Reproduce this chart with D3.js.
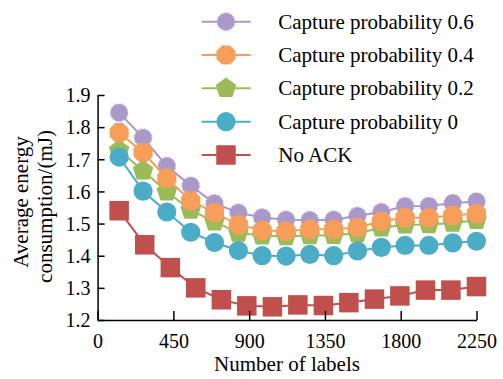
<!DOCTYPE html>
<html>
<head>
<meta charset="utf-8">
<script src="https://cdn.jsdelivr.net/npm/d3@7"></script>
<style>
  body { margin: 0; background: #fff; }
</style>
</head>
<body>
<svg id="chart" width="503" height="379"></svg>
<script>
// values
const xCapture = [128, 270, 411, 553, 694, 836, 977, 1119, 1260, 1402, 1543, 1685, 1826, 1967, 2109, 2250];
const xNoAck = [128, 280, 432, 583, 735, 886, 1038, 1189, 1341, 1492, 1644, 1795, 1947, 2098, 2250];

const cap06 = [1.845, 1.767, 1.679, 1.618, 1.563, 1.534, 1.519, 1.512, 1.511, 1.512, 1.524, 1.536, 1.554, 1.555, 1.564, 1.569];
const cap04 = [1.783, 1.721, 1.641, 1.571, 1.534, 1.496, 1.479, 1.476, 1.482, 1.482, 1.488, 1.507, 1.518, 1.518, 1.525, 1.531];
const cap02 = [1.728, 1.664, 1.599, 1.542, 1.506, 1.471, 1.462, 1.460, 1.463, 1.464, 1.470, 1.487, 1.496, 1.497, 1.502, 1.510];
const cap00 = [1.707, 1.601, 1.536, 1.473, 1.441, 1.416, 1.400, 1.399, 1.404, 1.400, 1.415, 1.426, 1.432, 1.432, 1.440, 1.445];
const noAck = [1.540, 1.434, 1.363, 1.300, 1.263, 1.244, 1.241, 1.247, 1.245, 1.254, 1.265, 1.275, 1.293, 1.293, 1.304];

const xTicks = [0, 450, 900, 1350, 1800, 2250];
const yTicks = [1.2, 1.3, 1.4, 1.5, 1.6, 1.7, 1.8, 1.9];

const legendNames = ["Capture probability 0.6", "Capture probability 0.4", "Capture probability 0.2", "Capture probability 0", "No ACK"];

// pick an installed serif face (Times-like)
function pickFont(list) {
  const c = document.createElement("canvas").getContext("2d");
  const probe = "Capture probability 0.6 Wm";
  c.font = "20px monospace";
  const base = c.measureText(probe).width;
  for (const f of list) {
    c.font = "20px '" + f + "', monospace";
    if (Math.abs(c.measureText(probe).width - base) > 0.5) return "'" + f + "'";
  }
  return "serif";
}
const FONT = pickFont(["Liberation Serif", "Times New Roman", "Tinos", "Nimbus Roman", "DejaVu Serif", "Noto Serif"]) + ", serif";

const svg = d3.select("#chart").style("font-family", FONT);

const x = d3.scaleLinear().domain([0, 2250]).range([97.6, 476.5]);
const y = d3.scaleLinear().domain([1.2, 1.9]).range([320, 95]);

// marker shapes
function poly(n, r, rot) {
  const pts = [];
  for (let i = 0; i < n; i++) {
    const a = rot + i * 2 * Math.PI / n;
    pts.push([r * Math.cos(a), r * Math.sin(a)]);
  }
  return "M" + pts.map(p => p[0].toFixed(2) + "," + p[1].toFixed(2)).join("L") + "Z";
}
function spiky(n, r1, r2) {
  const pts = [];
  for (let i = 0; i < 2 * n; i++) {
    const a = i * Math.PI / n;
    const r = i % 2 ? r2 : r1;
    pts.push([r * Math.cos(a), r * Math.sin(a)]);
  }
  return "M" + pts.map(p => p[0].toFixed(2) + "," + p[1].toFixed(2)).join("L") + "Z";
}
const shapes = {
  star: spiky(22, 9.6, 8.2),
  octagon: poly(8, 10.3, Math.PI / 8),
  pentagon: poly(5, 10.8, -Math.PI / 2),
  circle: d3.symbol().type(d3.symbolCircle).size(Math.PI * 9.6 * 9.6)(),
  square: d3.symbol().type(d3.symbolSquare).size(19.5 * 19.5)()
};

const series = [
  { name: legendNames[0], xs: xCapture, ys: cap06, color: "#aa99c8", shape: "star", legendRow: 0 },
  { name: legendNames[2], xs: xCapture, ys: cap02, color: "#9bbb59", shape: "pentagon", legendRow: 2 },
  { name: legendNames[1], xs: xCapture, ys: cap04, color: "#f79f5a", shape: "octagon", legendRow: 1 },
  { name: legendNames[3], xs: xCapture, ys: cap00, color: "#4bacc6", shape: "circle", legendRow: 3 },
  { name: legendNames[4], xs: xNoAck, ys: noAck, color: "#c0504d", shape: "square", legendRow: 4 }
];

const line = d3.line().x(d => x(d[0])).y(d => y(d[1]));

series.forEach(s => {
  const pts = s.xs.map((v, i) => [v, s.ys[i]]);
  const g = svg.append("g");
  g.append("path")
    .attr("d", line(pts))
    .attr("fill", "none")
    .attr("stroke", s.color)
    .attr("stroke-width", 2);
  g.selectAll("path.m")
    .data(pts)
    .enter()
    .append("path")
    .attr("class", "m")
    .attr("d", shapes[s.shape])
    .attr("transform", d => "translate(" + x(d[0]) + "," + y(d[1]) + ")")
    .attr("fill", s.color);
});

// axes
const xAxis = svg.append("g")
  .attr("transform", "translate(0,320)")
  .call(d3.axisBottom(x).tickValues(xTicks).tickSizeInner(-9).tickSizeOuter(0).tickPadding(14).tickFormat(d3.format("d")));
const yAxis = svg.append("g")
  .attr("transform", "translate(97.6,0)")
  .call(d3.axisLeft(y).tickValues(yTicks).tickSizeInner(-7).tickSizeOuter(0).tickPadding(7).tickFormat(d3.format(".1f")));

[xAxis, yAxis].forEach(a => {
  a.attr("font-family", null).attr("font-size", 20);
  a.select(".domain").attr("stroke", "#000").attr("stroke-width", 1.5);
  a.selectAll(".tick line").attr("stroke", "#000").attr("stroke-width", 1.5);
  a.selectAll("text").attr("fill", "#000");
});
yAxis.selectAll("text").attr("dy", "0.34em");
xAxis.selectAll("text").attr("dy", "0.71em");

// axis titles
svg.append("text")
  .attr("x", 287)
  .attr("y", 371)
  .attr("text-anchor", "middle")
  .attr("font-size", 21)
  .text("Number of labels");

svg.append("text")
  .attr("transform", "translate(27.5,202) rotate(-90)")
  .attr("text-anchor", "middle")
  .attr("font-size", 21)
  .text("Average energy");
svg.append("text")
  .attr("transform", "translate(52,206.5) rotate(-90)")
  .attr("text-anchor", "middle")
  .attr("font-size", 21)
  .text("consumption/(mJ)");

// legend
const legendY = [21.7, 55, 88.3, 121.7, 155];
series.forEach(s => {
  const ly = legendY[s.legendRow];
  const g = svg.append("g");
  g.append("line")
    .attr("x1", 201.7).attr("x2", 250.7)
    .attr("y1", ly).attr("y2", ly)
    .attr("stroke", s.color)
    .attr("stroke-width", 2);
  g.append("path")
    .attr("d", shapes[s.shape])
    .attr("transform", "translate(226," + ly + ")")
    .attr("fill", s.color);
  g.append("text")
    .attr("x", 278.3)
    .attr("y", ly)
    .attr("dy", "0.34em")
    .attr("font-size", 21)
    .text(s.name);
});
</script>
</body>
</html>
